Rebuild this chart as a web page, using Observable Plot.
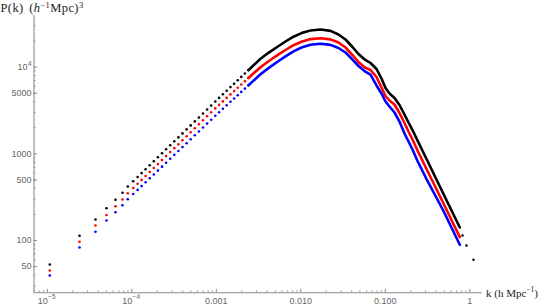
<!DOCTYPE html>
<html><head><meta charset="utf-8">
<script src="https://cdn.jsdelivr.net/npm/d3@7"></script>
<script src="https://cdn.jsdelivr.net/npm/@observablehq/plot@0.6"></script>
<style>body{margin:0;background:#fff;} svg{display:block;}</style>
</head><body><div id="chart"></div>
<script>
// wavenumbers k (h/Mpc), shared by the three spectra
const k = [1.070e-5, 2.405e-5, 3.718e-5, 5.018e-5, 6.414e-5, 7.761e-5, 8.97e-5,
  1.039e-4, 1.171e-4, 1.306e-4, 1.457e-4, 1.629e-4, 1.822e-4, 2.037e-4, 2.278e-4, 2.546e-4, 2.848e-4,
  3.184e-4, 3.560e-4, 3.981e-4, 4.452e-4, 4.977e-4, 5.566e-4, 6.223e-4, 6.959e-4, 7.782e-4, 8.702e-4, 9.731e-4,
  1.079e-3, 1.197e-3, 1.327e-3, 1.472e-3, 1.624e-3, 1.792e-3, 1.976e-3, 2.180e-3, 2.405e-3,
  2.682e-3, 3.335e-3, 4.147e-3, 5.301e-3, 6.589e-3, 8.197e-3, 1.019e-2, 1.302e-2, 1.710e-2,
  2.246e-2, 2.793e-2, 3.381e-2, 4.090e-2, 4.818e-2, 5.673e-2, 6.682e-2, 7.868e-2, 9.016e-2,
  0.1006, 0.1121, 0.1285, 0.1472, 0.1687, 0.1882, 0.2099, 0.2405, 0.3158, 0.4884, 0.7616];
const pBlack = [52.9, 113.3, 174.7, 235.8, 294.7, 354.9, 419.6,
  482.4, 540.3, 598.9, 664.4, 738.7, 820.6, 911.4, 1013, 1127, 1253,
  1392, 1546, 1719, 1911, 2126, 2364, 2622, 2916, 3243, 3606, 4011,
  4413, 4857, 5343, 5881, 6435, 7043, 7709, 8437, 9235,
  10214, 12463, 14620, 17192, 19738, 22419, 24677, 26435, 27151,
  26156, 23768, 20818, 17054, 14162, 12303, 11151, 9508, 7388,
  5741, 4961, 4401, 3655, 2840, 2296, 1881, 1424, 826, 343.8, 141.2];
const pRed = [45.1, 96.6, 148.9, 196.9, 248.7, 297.1, 351.2,
  402.8, 451.2, 500.1, 554.8, 616.8, 685.2, 761, 845.9, 941, 1046,
  1162, 1291, 1435, 1596, 1775, 1974, 2189, 2435, 2708, 3011, 3339,
  3665, 4023, 4413, 4845, 5287, 5771, 6300, 6876, 7506,
  8258, 9970, 11696, 13719, 15751, 17890, 19640, 21040, 21550,
  20872, 19216, 16831, 13788, 11450, 9947, 9260, 7688, 5818,
  4642, 4119, 3703, 2955, 2266, 1808, 1462, 1092, 633.4, 267.2, 109.2];
const pBlue = [39.5, 83.1, 126.0, 170.1, 211.5, 255.4, 299.5,
  343.3, 383.5, 423.9, 470.3, 521.5, 577.8, 640.0, 711.3, 789.2, 875.2,
  972.3, 1077, 1195, 1325, 1474, 1634, 1808, 2011, 2230, 2473, 2744,
  3011, 3305, 3626, 3980, 4344, 4742, 5176, 5649, 6168,
  6804, 8258, 9738, 11543, 13325, 15214, 16835, 18082, 18571,
  18035, 16602, 14735, 12236, 10297, 9016, 8213, 6136, 4961,
  4011, 3512, 2995, 2358, 1714, 1387, 1121, 826, 485.8, 218.9, 89.2];
// extra high-k points of the black spectrum
const kTail = [0.8197, 0.9139, 1.106];
const pTail = [114.2, 87.6, 59.9];
const denseStart = 36; // from here on the points merge into a continuous band

const seriesNames = ["black", "red", "blue"];
const seriesValues = [pBlack, pRed, pBlue];
const seriesColors = ["#000000", "#ff0000", "#0000ff"];

// major tick values, their label bases and superscript exponents ("" = none)
const xTicks = [1e-5, 1e-4, 1e-3, 1e-2, 1e-1, 1];
const xTickBase = ["10", "10", "0.001", "0.010", "0.100", "1"];
const xTickExp = ["−5", "−4", "", "", "", ""];
const yTicks = [50, 100, 500, 1000, 5000, 10000];
const yTickBase = ["50", "100", "500", "1000", "5000", "10"];
const yTickExp = ["", "", "", "", "", "4"];

const xDomain = [6.96e-6, 1.402];
const yDomain = [24.93, 39380];

const xMinor = [], yMinor = [];
for (const d of [1e-6, 1e-5, 1e-4, 1e-3, 1e-2, 1e-1, 1]) for (let m = 2; m <= 9; m++) { const v = d * m; if (v > xDomain[0] && v < xDomain[1]) xMinor.push(v); }
for (const d of [10, 100, 1000, 10000]) for (let m = 2; m <= 9; m++) { const v = d * m; if (v > yDomain[0] && v < yDomain[1]) yMinor.push(v); }

const rows = [];
seriesNames.forEach((s, j) => k.forEach((kv, i) => rows.push({series: s, k: kv, p: seriesValues[j][i], i})));
const tailRows = kTail.map((kv, i) => ({series: "black", k: kv, p: pTail[i]}));

const W = 540, H = 306, mL = 33.5, mR = 58.3, mT = 15, mB = 13.7;
const plotW = W - mL - mR, plotH = H - mT - mB;
const axisGray = "#8a8a8a";
const labelGray = "#666";
const xPlain = xTicks.map((v, i) => ({v, t: xTickBase[i]})).filter((d, i) => !xTickExp[i]);
const xPow = xTicks.map((v, i) => ({v, b: xTickBase[i], e: xTickExp[i]})).filter(d => d.e);
const yPlain = yTicks.map((v, i) => ({v, t: yTickBase[i]})).filter((d, i) => !yTickExp[i]);
const yPow = yTicks.map((v, i) => ({v, b: yTickBase[i], e: yTickExp[i]})).filter(d => d.e);

const marks = [
  Plot.ruleY([yDomain[0]], {stroke: axisGray, strokeWidth: 1.1}),
  Plot.ruleX([xDomain[0]], {stroke: axisGray, strokeWidth: 1.1}),
  Plot.tickX(xTicks, {x: d => d, stroke: axisGray, insetTop: plotH - 3.5}),
  Plot.tickX(xMinor, {x: d => d, stroke: axisGray, strokeOpacity: 0.8, insetTop: plotH - 2}),
  Plot.tickY(yTicks, {y: d => d, stroke: axisGray, insetRight: plotW - 3.5}),
  Plot.tickY(yMinor, {y: d => d, stroke: axisGray, strokeOpacity: 0.8, insetRight: plotW - 2}),
  Plot.text(xPlain, {x: "v", text: "t", frameAnchor: "bottom", lineAnchor: "top", dy: 5, fill: labelGray, fontSize: 9}),
  Plot.text(xPow, {x: "v", text: "b", frameAnchor: "bottom", lineAnchor: "top", textAnchor: "end", dx: 0.5, dy: 5, fill: labelGray, fontSize: 9}),
  Plot.text(xPow, {x: "v", text: "e", frameAnchor: "bottom", lineAnchor: "top", textAnchor: "start", dx: 0.8, dy: 2, fill: labelGray, fontSize: 6.5}),
  Plot.text(yPlain, {y: "v", text: "t", frameAnchor: "left", textAnchor: "end", dx: -2.5, fill: labelGray, fontSize: 9}),
  Plot.text(yPow, {y: "v", text: "b", frameAnchor: "left", textAnchor: "end", dx: -6.5, fill: labelGray, fontSize: 9}),
  Plot.text(yPow, {y: "v", text: "e", frameAnchor: "left", textAnchor: "end", dx: -2.5, dy: -3, fill: labelGray, fontSize: 6.5})
];
seriesNames.forEach((s, j) => {
  const r = rows.filter(d => d.series === s);
  marks.push(Plot.line(r.filter(d => d.i >= denseStart), {x: "k", y: "p", stroke: seriesColors[j], strokeWidth: 2.6}));
  marks.push(Plot.dot(r.filter(d => d.i < denseStart + 1), {x: "k", y: "p", r: 1.3, fill: seriesColors[j]}));
});
marks.push(Plot.dot(tailRows, {x: "k", y: "p", r: 1.2, fill: "#000"}));

const plot = Plot.plot({
  width: W, height: H,
  marginLeft: mL, marginRight: mR, marginTop: mT, marginBottom: mB,
  x: {type: "log", domain: xDomain, axis: null},
  y: {type: "log", domain: yDomain, axis: null},
  style: {background: "white", fontFamily: "'Liberation Sans', Arial, sans-serif", fontSize: "9px"},
  marks
});

const svg = d3.select(plot).style("overflow", "visible");
const yl = svg.append("text").attr("x", 0.5).attr("y", 12).attr("text-anchor", "start")
  .attr("font-family", "'Liberation Serif', 'Times New Roman', serif").attr("font-size", 12.5).attr("fill", "#222")
  .attr("letter-spacing", 0.4).attr("word-spacing", 2);
yl.append("tspan").text("P(k) (");
yl.append("tspan").attr("font-style", "italic").text("h");
yl.append("tspan").attr("dy", -4.5).attr("font-size", 8.5).text("−1");
yl.append("tspan").attr("dy", 4.5).text("Mpc)");
yl.append("tspan").attr("dy", -4.5).attr("font-size", 8.5).text("3");

const xl = svg.append("text").attr("x", 486).attr("y", 296.5).attr("text-anchor", "start")
  .attr("font-family", "'Liberation Serif', 'Times New Roman', serif").attr("font-size", 11).attr("fill", "#222");
xl.append("tspan").text("k (h Mpc");
xl.append("tspan").attr("dy", -4.5).attr("font-size", 7.5).text("−1");
xl.append("tspan").attr("dy", 4.5).text(")");

document.getElementById("chart").appendChild(plot);
</script>
</body></html>
